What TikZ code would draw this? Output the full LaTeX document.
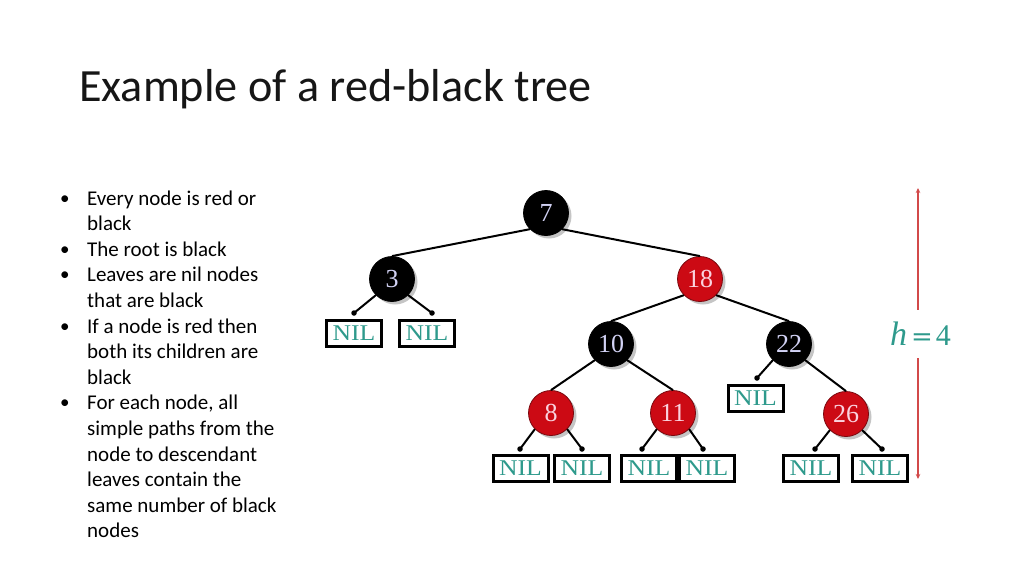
\documentclass[tikz,border=0pt]{standalone}
\usepackage{fontspec}
\setmainfont{Carlito}
\newfontfamily\tms{Liberation Serif}
\newfontfamily\tmsw[FakeStretch=1.14]{Liberation Serif}
\newfontfamily\djs{DejaVu Serif}
\usetikzlibrary{shadows,arrows.meta}
\definecolor{rbred}{HTML}{CC0A14}
\definecolor{rbredd}{HTML}{7A080E}
\definecolor{lav}{HTML}{D2D2F4}
\definecolor{pinkt}{HTML}{FAD2DE}
\definecolor{nilteal}{HTML}{2E9A8C}
\definecolor{harrow}{HTML}{D24A4A}
\definecolor{ttl}{HTML}{161616}
\begin{document}
\begin{tikzpicture}[x=1pt,y=-1pt,
  blk/.style={circle,minimum size=45pt,inner sep=0pt,fill=black,draw=black,line width=0.8pt,
    drop shadow={shadow xshift=3pt,shadow yshift=-3pt,fill=black!45},
    text=lav,font=\tms\fontsize{26}{26}\selectfont},
  rd/.style={blk,fill=rbred,draw=rbredd,text=pinkt},
  nil/.style={draw=black,line width=3pt,minimum width=55pt,minimum height=26pt,inner sep=0pt,
    text=nilteal,font=\tmsw\fontsize{22.5}{22.5}\selectfont},
  edge/.style={line width=2pt},
  dotend/.style={circle,fill=black,inner sep=0pt,minimum size=5.5pt},
  txt/.style={anchor=base west,inner sep=0pt,font=\fontsize{21}{24}\selectfont,text=black},
  bul/.style={anchor=base west,inner sep=0pt,font=\fontsize{19}{24}\selectfont,text=black}]
\useasboundingbox (0,0) rectangle (1024,576);
\fill[white] (0,0) rectangle (1024,576);

% title
\node[anchor=base west,inner sep=0pt,text=ttl,font=\fontsize{46.2}{46}\selectfont] (title) at (79,101) {Example of a red-black tree};

% bullet text
\foreach \i/\t in {1/Every node is red or,2/black,3/The root is black,4/Leaves are nil nodes,5/that are black,6/If a node is red then,7/both its children are,8/black,9/{For each node, all},10/simple paths from the,11/node to descendant,12/leaves contain the,13/same number of black,14/nodes}{
  \node[txt] (line\i) at (87,{205+25.6*(\i-1)}) {\t};
}
\foreach \i in {1,3,4,6,9}{
  \node[bul] (bullet\i) at (60,{204+25.6*(\i-1)}) {•};
}

% tree nodes
\node[blk] (n7) at (546,213) {7};
\node[blk] (n3) at (392,279) {3};
\node[rd]  (n18) at (700,279) {18};
\node[blk] (n10) at (611,344) {10};
\node[blk] (n22) at (789,344) {22};
\node[rd]  (n8) at (551,413) {8};
\node[rd]  (n11) at (673,413) {11};
\node[rd]  (n26) at (846,414) {26};

% NIL leaves
\node[nil] (nilA) at (354,333) {NIL};
\node[nil] (nilB) at (427,333) {NIL};
\node[nil] (nilC) at (755.5,398) {NIL};
\node[nil] (nilD) at (520.5,468) {NIL};
\node[nil] (nilE) at (582,468) {NIL};
\node[nil] (nilF) at (649,468) {NIL};
\node[nil] (nilG) at (707,468) {NIL};
\node[nil] (nilH) at (811,468) {NIL};
\node[nil] (nilI) at (880,468) {NIL};

% connector dots
\node[dotend] (dA) at (354,313) {};
\node[dotend] (dB) at (432,313) {};
\node[dotend] (dC) at (757,378) {};
\node[dotend] (dD) at (520,449) {};
\node[dotend] (dE) at (582,449) {};
\node[dotend] (dF) at (642,449) {};
\node[dotend] (dG) at (703,449) {};
\node[dotend] (dH) at (815,449) {};
\node[dotend] (dI) at (882,449) {};

% edges
\draw[edge] (n7.-135) -- (n3.north);
\draw[edge] (n7.-45) -- (n18.north);
\draw[edge] (n18.-135) -- (n10.north);
\draw[edge] (n18.-45) -- (n22.north);
\draw[edge] (n10.-135) -- (n8.north);
\draw[edge] (n10.-45) -- (n11.north);
\draw[edge] (n22.-45) -- (n26.north);
\draw[edge] (n3.-135) -- (dA.center);
\draw[edge] (n3.-45) -- (dB.center);
\draw[edge] (n22.-135) -- (dC.center);
\draw[edge] (n8.-135) -- (dD.center);
\draw[edge] (n8.-45) -- (dE.center);
\draw[edge] (n11.-135) -- (dF.center);
\draw[edge] (n11.-45) -- (dG.center);
\draw[edge] (n26.-135) -- (dH.center);
\draw[edge] (n26.-45) -- (dI.center);

% height marker
\coordinate (htop) at (918,188);
\coordinate (hbot) at (918,479);
\node[inner sep=0pt,minimum height=48pt,text=nilteal,font=\tms\fontsize{30}{30}\selectfont] (hl) at (920.5,334) {{\fontsize{34}{34}\selectfont\itshape h}\hspace{4pt}{\djs\fontsize{26}{26}\selectfont =}\hspace{3pt}4};
\draw[harrow,line width=1.3pt,-{Stealth[length=5pt,width=4.5pt]}] (hl.north -| htop) -- (htop);
\draw[harrow,line width=1.3pt,-{Stealth[length=5pt,width=4.5pt]}] (hl.south -| htop) -- (hbot);
\end{tikzpicture}
\end{document}
